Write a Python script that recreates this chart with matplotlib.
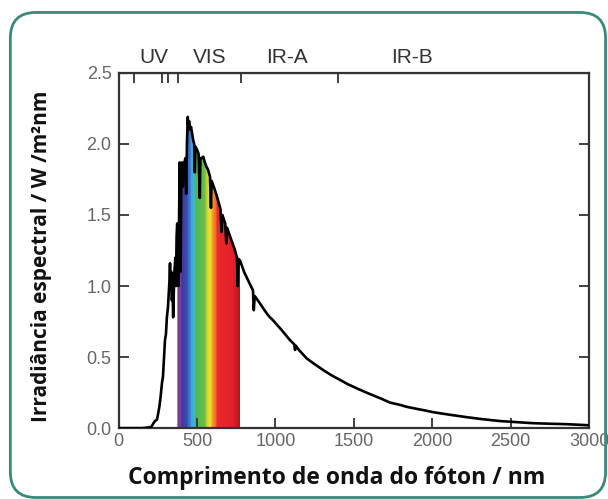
import numpy as np
import matplotlib
matplotlib.use("Agg")
import matplotlib.pyplot as plt
from matplotlib.colors import LinearSegmentedColormap
from matplotlib.patches import FancyBboxPatch

# spectrum (nm, W/m2nm)
wl = [0, 150, 195, 210, 220, 232, 245, 252, 260, 268, 277, 283, 290, 296,
      302, 308, 315, 320, 325, 328, 331, 336, 340, 344, 348, 352, 356, 362,
      366, 370, 374, 378, 382, 386, 390, 394, 397, 400, 405, 410, 415, 420,
      426, 431, 436, 441, 445, 450, 456, 462, 468, 475, 482, 486, 490, 500,
      510, 518, 522, 530, 540, 550, 560, 570, 583, 589, 593, 610, 630, 650,
      656, 662, 680, 687, 692, 720, 740, 755, 760, 765, 774, 800, 830, 857,
      862, 868, 900, 930, 950, 965, 984, 1040, 1092, 1120, 1125, 1130, 1150,
      1200, 1250, 1303, 1360, 1411, 1460, 1519, 1570, 1624, 1680, 1729, 1790,
      1837, 1890, 1942, 2003, 2047, 2120, 2220, 2320, 2430, 2540, 2640, 2750,
      2855, 2930, 3000]
irr = [0.0, 0.0, 0.005, 0.01, 0.03, 0.05, 0.06, 0.1, 0.15, 0.22, 0.32, 0.36,
       0.5, 0.62, 0.66, 0.78, 0.85, 0.95, 1.05, 1.16, 0.98, 1.1, 0.9, 1.0,
       0.78, 0.95, 1.1, 1.2, 1.0, 1.35, 1.44, 1.15, 1.0, 1.5, 1.87, 1.1, 1.3,
       1.75, 1.87, 1.7, 1.85, 1.87, 1.9, 1.65, 2.0, 2.19, 2.12, 2.16, 2.1,
       2.12, 2.08, 2.03, 2.0, 1.8, 1.98, 1.96, 1.93, 1.62, 1.9, 1.9, 1.91,
       1.87, 1.84, 1.82, 1.77, 1.55, 1.74, 1.69, 1.62, 1.54, 1.38, 1.5, 1.44,
       1.3, 1.41, 1.32, 1.26, 1.2, 1.0, 1.19, 1.18, 1.1, 1.03, 0.97, 0.83,
       0.93, 0.88, 0.83, 0.8, 0.78, 0.76, 0.69, 0.62, 0.59, 0.55, 0.58, 0.55,
       0.49, 0.45, 0.41, 0.37, 0.34, 0.31, 0.28, 0.255, 0.23, 0.205, 0.18,
       0.165, 0.15, 0.138, 0.127, 0.113, 0.105, 0.093, 0.077, 0.063, 0.05,
       0.042, 0.035, 0.031, 0.028, 0.024, 0.02]

# visible band colours (nm, colour)
vis_nm = [375, 400, 405, 440, 445, 460, 465, 485, 490, 550, 560, 575, 590,
          597, 625, 630, 730, 760, 776]
vis_colors = ['#6e3d98', '#7b3f9e', '#3e3a9c', '#3b4cb0', '#3a6cc8', '#3a80d0',
              '#3aa8e0', '#40b4d8', '#4db85c', '#6cbc44', '#a8cc38', '#e0dc30',
              '#f4e030', '#f7a82a', '#f0602a', '#ea2a2c', '#e4202a', '#c81c24',
              '#a01a20']

bands = ['UV', 'VIS', 'IR-A', 'IR-B']
band_pos = [225, 580, 1075, 1870]
band_ticks = [100, 280, 315, 380, 780, 1400]

fig = plt.figure(figsize=(6.08, 4.99), dpi=100)
fig.patches.append(FancyBboxPatch((0.017, 0.003), 0.979, 0.972,
                                  boxstyle="round,pad=0,rounding_size=0.042",
                                  transform=fig.transFigure, fill=False,
                                  edgecolor='#3a8a7a', linewidth=2.0,
                                  mutation_aspect=608 / 499))
ax = fig.add_axes([0.195, 0.142, 0.774, 0.712])

wl_a = np.array(wl, dtype=float)
irr_a = np.array(irr, dtype=float)

# rainbow under the curve between 375 and 776 nm
lo, hi = vis_nm[0], vis_nm[-1]
cmap = LinearSegmentedColormap.from_list(
    'vis', [((n - lo) / (hi - lo), c) for n, c in zip(vis_nm, vis_colors)], N=512)
mask = (wl_a >= lo) & (wl_a <= hi)
xs = np.concatenate([[lo], wl_a[mask], [hi]])
ys = np.concatenate([[np.interp(lo, wl_a, irr_a)], irr_a[mask],
                     [np.interp(hi, wl_a, irr_a)]])
poly = ax.fill_between(xs, 0, ys, color='none', lw=0)
grad = np.linspace(0, 1, 800).reshape(1, -1)
im = ax.imshow(grad, cmap=cmap, aspect='auto', extent=[lo, hi, 0, 2.5],
               origin='lower', zorder=1, interpolation='nearest')
im.set_clip_path(poly.get_paths()[0], transform=ax.transData)

ax.plot(wl_a, irr_a, color='black', lw=1.9, zorder=3)

ax.set_xlim(0, 3000)
ax.set_ylim(0, 2.5)
ax.set_xticks(range(0, 3001, 500))
ax.set_yticks(np.arange(0, 2.51, 0.5))
ax.set_yticklabels(['0.0', '0.5', '1.0', '1.5', '2.0', '2.5'])
ax.tick_params(direction='in', length=7, width=1.3, color='#333333',
               labelsize=13, labelcolor='#666666', right=True)
ax.tick_params(axis='y', pad=5)
for lab in ax.get_xticklabels() + ax.get_yticklabels():
    lab.set_family('Liberation Sans')
for sp in ax.spines.values():
    sp.set_linewidth(1.6)
    sp.set_color('#333333')

top = ax.secondary_xaxis('top')
top.set_xticks(band_ticks)
top.set_xticklabels([''] * len(band_ticks))
top.tick_params(direction='in', length=7, width=1.3, color='#333333')
for name, pos in zip(bands, band_pos):
    ax.text(pos, 2.54, name, ha='center', va='bottom', fontsize=15,
            color='#333333', family='Liberation Sans')

fig.text(337 / 608, 1 - 478 / 499, 'Comprimento de onda do fóton / nm',
         family='Open Sans', fontweight='bold', fontsize=16.5,
         color='#111111', ha='center', va='center')
fig.text(42 / 608, 1 - 256 / 499, 'Irradiância espectral / W /m²nm',
         family='Open Sans', fontweight='bold', fontsize=15,
         color='#111111', ha='center', va='center', rotation=90)

fig.savefig('out.png', dpi=100)
